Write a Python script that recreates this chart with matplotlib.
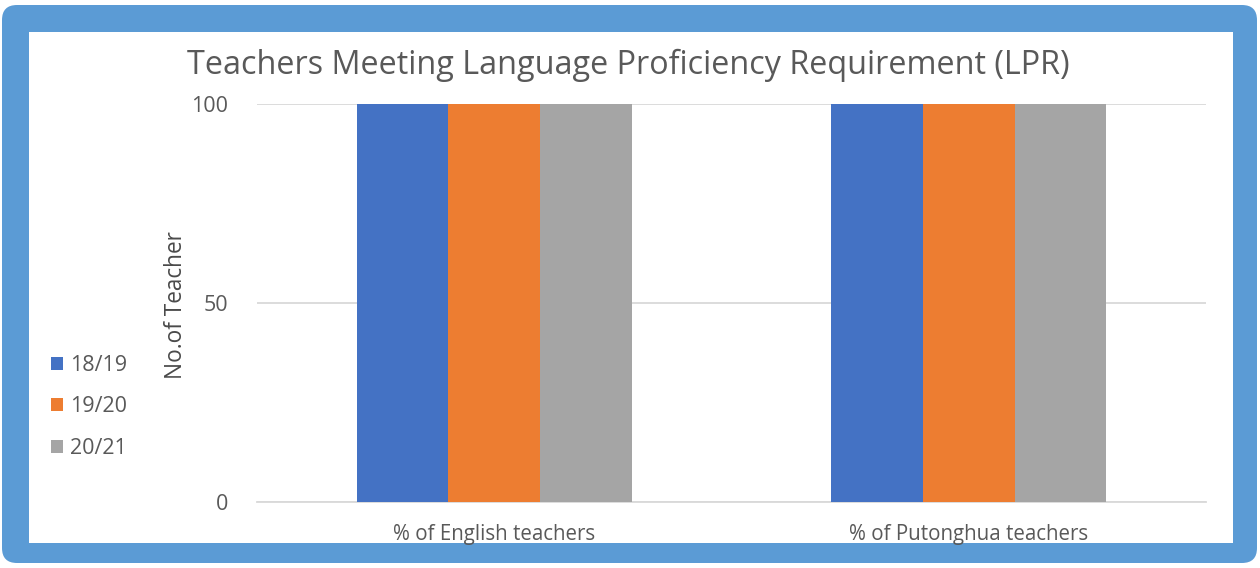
import matplotlib.pyplot as plt
import numpy as np
from matplotlib.patches import FancyBboxPatch, Rectangle
from matplotlib.transforms import IdentityTransform

plt.rcParams['font.family'] = ['Open Sans', 'DejaVu Sans']

categories = ['% of English teachers', '% of Putonghua teachers']
years = ['18/19', '19/20', '20/21']
values = {
    '18/19': [100, 100],
    '19/20': [100, 100],
    '20/21': [100, 100],
}
colors = ['#4472C4', '#ED7D31', '#A5A5A5']
txt = '#595959'

fig = plt.figure(figsize=(12.6, 5.68), dpi=100)
fig.patch.set_facecolor('white')

# blue frame and white panel, in pixel coords
frame = FancyBboxPatch((17, 20), 1225, 528, boxstyle='round,pad=15',
                       transform=IdentityTransform(), facecolor='#5B9BD5',
                       edgecolor='none', zorder=0)
panel = Rectangle((29, 25), 1204, 511, transform=IdentityTransform(),
                  facecolor='white', edgecolor='none', zorder=1)
fig.patches.extend([frame, panel])

ax = fig.add_axes([257 / 1260, 66 / 568, 949 / 1260, 398 / 568])
ax.set_zorder(2)
ax.patch.set_alpha(0)

x = np.arange(len(categories))
w = 0.193
for i, yr in enumerate(years):
    ax.bar(x + (i - 1) * w, values[yr], w, color=colors[i], label=yr, zorder=3)

ax.set_xlim(-0.5, 1.5)
ax.set_ylim(0, 100)
ax.set_yticks([0, 50, 100])
ax.yaxis.grid(True, color='#D9D9D9', lw=1.3, zorder=0)
ax.set_xticks(x)
ax.set_xticklabels(categories)
ax.tick_params(axis='both', length=0, colors=txt)
ax.tick_params(axis='y', pad=21, labelsize=15.5)
ax.tick_params(axis='x', pad=16, labelsize=14.8)
for s in ['top', 'right', 'left']:
    ax.spines[s].set_visible(False)
ax.spines['bottom'].set_color('#D9D9D9')
ax.spines['bottom'].set_linewidth(1.3)

fig.text(176 / 1260, 1 - 305 / 568, 'No.of Teacher', rotation=90,
         ha='center', va='center', fontsize=16.3, color='#4a4a4a')

fig.text(628 / 1260, 1 - 65 / 568, 'Teachers Meeting Language Proficiency Requirement (LPR)',
         ha='center', va='center', fontsize=23.3, color=txt)

leg = fig.legend(loc='center left', bbox_to_anchor=(32 / 1260, 1 - 407 / 568),
                 frameon=False, fontsize=15.5, handlelength=0.55, handleheight=0.55,
                 handletextpad=0.3, labelspacing=0.95)
for t in leg.get_texts():
    t.set_color(txt)

fig.savefig('out.png', dpi=100)
